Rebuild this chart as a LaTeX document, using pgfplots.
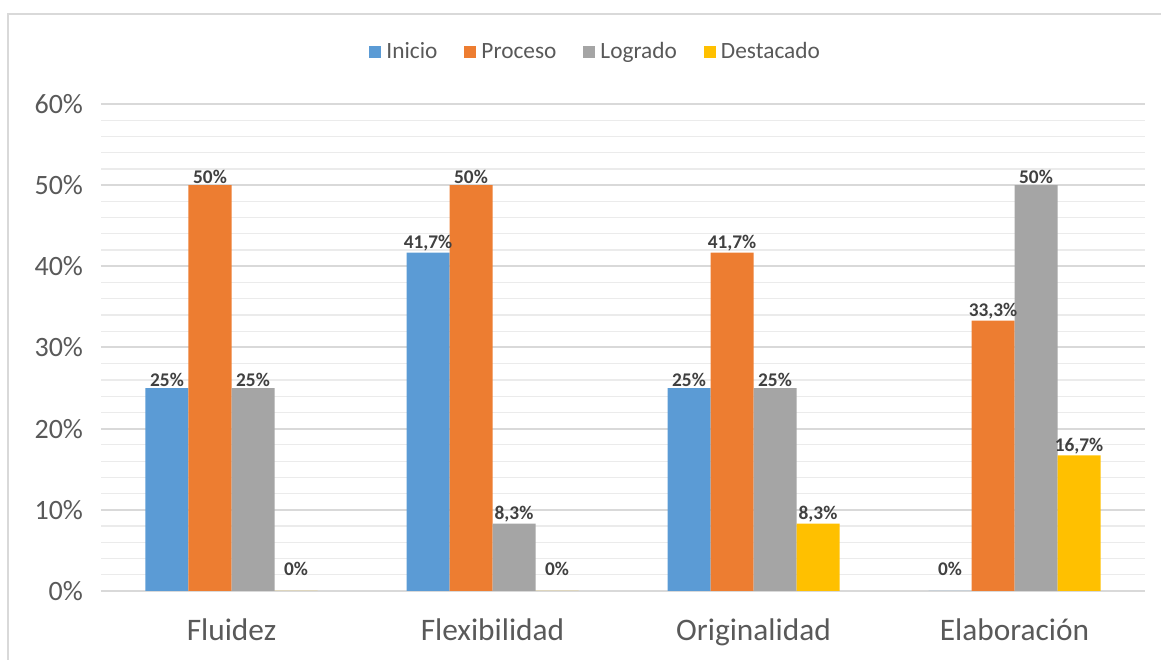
\documentclass[border=0pt]{standalone}
\usepackage{pgfplots}
\pgfplotsset{compat=1.18}
\usepackage{fontspec}
\setmainfont{Carlito}
\definecolor{cIni}{HTML}{5B9BD5}
\definecolor{cPro}{HTML}{ED7D31}
\definecolor{cLog}{HTML}{A5A5A5}
\definecolor{cDes}{HTML}{FFC000}
\definecolor{tickc}{HTML}{595959}
\definecolor{majg}{HTML}{D9D9D9}
\definecolor{ming}{HTML}{EBEBEB}
\definecolor{lblc}{HTML}{404040}
\begin{document}
\begin{tikzpicture}
\useasboundingbox (0pt,0pt) rectangle (870.75pt,495pt);
\draw[majg, line width=1.2pt] (6pt,0pt) -- (6pt,484.5pt) -- (870.75pt,484.5pt);
\begin{axis}[
  at={(75.75pt,51.75pt)}, anchor=south west,
  scale only axis, width=783pt, height=365.25pt,
  ybar=0pt, bar width=32.25pt,
  xmin=-0.5, xmax=3.5, ymin=0, ymax=60,
  xtick={0,1,2,3},
  xticklabels={Fluidez,Flexibilidad,Originalidad,Elaboración},
  ytick={0,10,...,60},
  yticklabel={\pgfmathprintnumber{\tick}\%},
  minor y tick num=4,
  ymajorgrids, yminorgrids,
  major grid style={majg, line width=1.5pt},
  minor grid style={ming, line width=0.9pt},
  axis lines*=left,
  x axis line style={majg, line width=1pt},
  y axis line style={draw=none},
  major tick length=0pt, minor tick length=0pt,
  xtick style={draw=none}, ytick style={draw=none}, minor tick style={draw=none},
  /pgf/number format/assume math mode=true,
  tick label style={font=\fontsize{21}{24}\selectfont, text=tickc},
  xticklabel style={font=\fontsize{23.5}{27}\selectfont, text=tickc, yshift=-17pt},
  yticklabel style={xshift=-10pt},
  visualization depends on={rawy \as \rawy},
  nodes near coords={\pgfmathprintnumber[use comma, fixed, precision=1]{\pgfplotspointmeta}\%},
  nodes near coords style={font=\bfseries\fontsize{14.5}{16}\selectfont, text=lblc, inner sep=1pt, anchor=south,
    yshift={ifthenelse(\rawy==0,10,0)}},
  legend columns=4,
  legend style={at={(0.474,1.107)}, anchor=center, draw=none, fill=none,
    font=\fontsize{17.5}{20}\selectfont, text=tickc, inner sep=0pt,
    /tikz/every odd column/.append style={column sep=0pt},
    /tikz/every even column/.append style={column sep=18pt}},
  legend image code/.code={\fill[#1] (0pt,-4.5pt) rectangle (9pt,4.5pt); \path (11pt,0pt);},
  clip=false,
]
\addplot[fill=cIni, draw=none] coordinates {(0,25) (1,41.7) (2,25) (3,0)};
\addplot[fill=cPro, draw=none] coordinates {(0,50) (1,50) (2,41.7) (3,33.3)};
\addplot[fill=cLog, draw=none] coordinates {(0,25) (1,8.3) (2,25) (3,50)};
\addplot[fill=cDes, draw=none] coordinates {(0,0) (1,0) (2,8.3) (3,16.7)};
\legend{Inicio,Proceso,Logrado,Destacado}
\end{axis}
\end{tikzpicture}
\end{document}
